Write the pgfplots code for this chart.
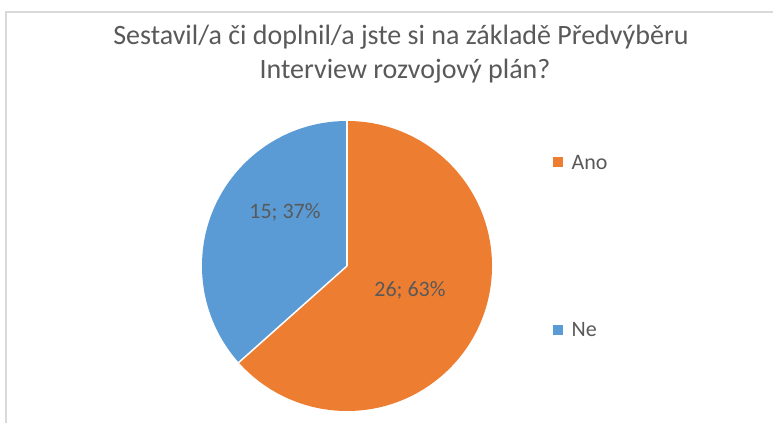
\documentclass[border=0pt]{standalone}
\usepackage{pgfplots}
\pgfplotsset{compat=1.18}
\usepackage{fontspec}
\setmainfont{Carlito}
\definecolor{ano}{HTML}{ED7D31}
\definecolor{ne}{HTML}{5B9BD5}
\definecolor{txt}{HTML}{595959}
\definecolor{frm}{HTML}{D9D9D9}
\pgfmathsetmacro{\valAno}{26}
\pgfmathsetmacro{\valNe}{15}
\pgfmathsetmacro{\angNe}{360*\valNe/(\valAno+\valNe)}
\pgfmathsetmacro{\endNe}{90+\angNe}
\pgfmathsetmacro{\endAno}{90+\angNe-360}
\begin{document}
\begin{tikzpicture}
\begin{axis}[name=ax, scale only axis, width=773pt, height=423pt,
  xmin=0, xmax=773, ymin=0, ymax=423, hide axis, clip=false]
% frame
\draw[frm, line width=1.5pt] (axis cs:6,0) -- (axis cs:6,411) -- (axis cs:773,411);
% pie
\fill[ano] (axis cs:347,157) -- ++(90:145pt) arc[start angle=90, end angle=\endAno, radius=145pt] -- cycle;
\fill[ne] (axis cs:347,157) -- ++(90:145pt) arc[start angle=90, end angle=\endNe, radius=145pt] -- cycle;
\draw[white, line width=1.5pt] (axis cs:347,157) -- ++(90:145pt);
\draw[white, line width=1.5pt] (axis cs:347,157) -- ++(\endNe:145pt);
% labels
\node[txt, font=\fontsize{22}{26}\selectfont] at (axis cs:285,211) {15; 37\%};
\node[txt, font=\fontsize{22}{26}\selectfont] at (axis cs:410,133) {26; 63\%};
% title
\node[txt, anchor=base, font=\fontsize{28}{32}\selectfont] at (axis cs:401,378) {Sestavil/a či doplnil/a jste si na základě Předvýběru};
\node[txt, anchor=base, font=\fontsize{28}{32}\selectfont] at (axis cs:405,344) {Interview rozvojový plán?};
% legend
\fill[ano] (axis cs:553,256) rectangle (axis cs:563,266);
\node[txt, anchor=west, font=\fontsize{22}{26}\selectfont] at (axis cs:568,260) {Ano};
\fill[ne] (axis cs:553,88) rectangle (axis cs:563,98);
\node[txt, anchor=west, font=\fontsize{22}{26}\selectfont] at (axis cs:568,93) {Ne};
\end{axis}
\pgfresetboundingbox
\useasboundingbox (ax.south west) rectangle (ax.north east);
\end{tikzpicture}
\end{document}
